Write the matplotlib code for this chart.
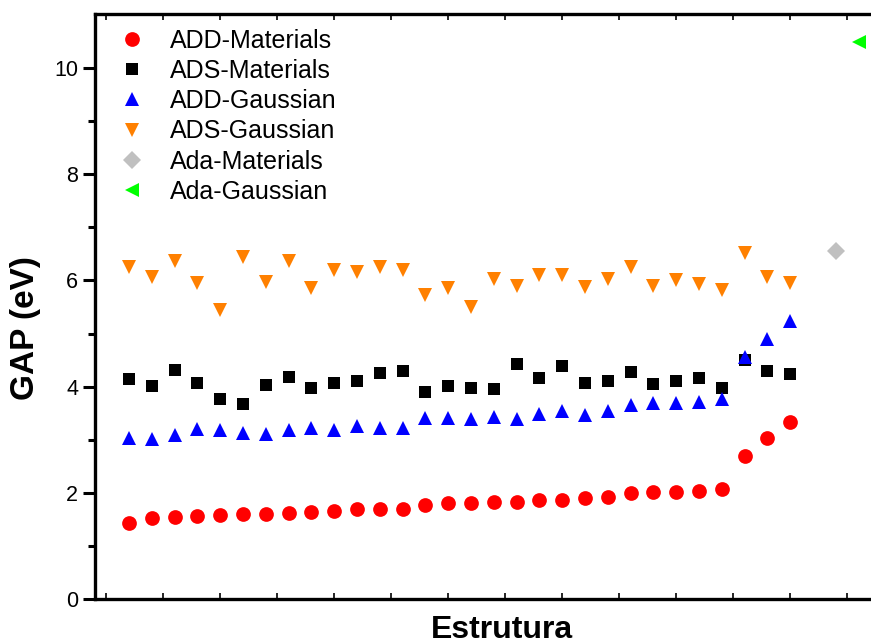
import numpy as np
import matplotlib
matplotlib.use('Agg')
import matplotlib.pyplot as plt

plt.rcParams['font.family'] = ['Liberation Sans', 'DejaVu Sans']

# structure index for the 30 structures
estrutura = np.arange(1, 31)

add_materials = [1.44, 1.52, 1.55, 1.57, 1.58, 1.60, 1.60, 1.62, 1.64, 1.65,
                 1.69, 1.69, 1.70, 1.78, 1.80, 1.81, 1.83, 1.83, 1.86, 1.86,
                 1.91, 1.92, 2.00, 2.01, 2.01, 2.04, 2.08, 2.70, 3.03, 3.33]
ads_materials = [4.14, 4.02, 4.31, 4.07, 3.76, 3.68, 4.04, 4.19, 3.97, 4.06,
                 4.11, 4.25, 4.29, 3.89, 4.01, 3.97, 3.96, 4.42, 4.17, 4.38,
                 4.06, 4.10, 4.27, 4.05, 4.11, 4.17, 3.98, 4.51, 4.30, 4.24]
add_gaussian = [3.03, 3.01, 3.08, 3.20, 3.18, 3.13, 3.10, 3.18, 3.23, 3.19,
                3.26, 3.23, 3.23, 3.41, 3.41, 3.40, 3.42, 3.39, 3.49, 3.54,
                3.47, 3.54, 3.65, 3.69, 3.69, 3.71, 3.77, 4.56, 4.89, 5.23]
ads_gaussian = [6.25, 6.06, 6.36, 5.95, 5.45, 6.44, 5.98, 6.36, 5.85, 6.19,
                6.16, 6.26, 6.19, 5.73, 5.85, 5.51, 6.02, 5.90, 6.10, 6.11,
                5.87, 6.03, 6.25, 5.90, 6.00, 5.93, 5.83, 6.52, 6.06, 5.95]
ada_x = [32, 33]
ada_materials = [6.55]
ada_gaussian = [10.49]

fig = plt.figure(figsize=(8.71, 6.44), dpi=100)
ax = fig.add_axes([95 / 871, 45 / 644, 1 - 95 / 871, 585 / 644])

ax.plot(estrutura, add_materials, 'o', color='#FF0000', ms=10.6, mew=0, label='ADD-Materials')
ax.plot(estrutura, ads_materials, 's', color='#000000', ms=9.2, mew=0, label='ADS-Materials')
ax.plot(estrutura, add_gaussian, '^', color='#0000FF', ms=10.4, mew=0, label='ADD-Gaussian')
ax.plot(estrutura, ads_gaussian, 'v', color='#FF8000', ms=10.4, mew=0, label='ADS-Gaussian')
ax.plot(ada_x[:1], ada_materials, 'D', color='#C0C0C0', ms=9.0, mew=0, label='Ada-Materials')
ax.plot(ada_x[1:], ada_gaussian, '<', color='#00FF00', ms=10.4, mew=0, label='Ada-Gaussian')

ax.set_xlim(-0.49, 33.54)
ax.set_ylim(0, 11.02)

ax.set_xticks(np.arange(0, 34, 2.5))
ax.tick_params(axis='x', direction='in', length=4, width=1.2, labelbottom=False,
               top=True, labeltop=False)
ax.set_yticks(np.arange(0, 11, 2))
ax.set_yticks(np.arange(1, 11, 2), minor=True)
ax.tick_params(axis='y', which='major', direction='out', length=9, width=2.2, labelsize=15.5, pad=3)
ax.tick_params(axis='y', which='minor', direction='out', length=5, width=2.2)

for side in ['left', 'bottom', 'top']:
    ax.spines[side].set_linewidth(2.4)
ax.spines['right'].set_visible(False)

ax.set_ylabel('GAP (eV)', fontsize=24, fontweight='bold')
ax.yaxis.set_label_coords(-54 / 776, (599 - 328) / 585)
ax.set_xlabel('Estrutura', fontsize=23, fontweight='bold')
ax.xaxis.set_label_coords((502 - 95) / 776, -16 / 585)
ax.xaxis.label.set_va('top')

ax.legend(loc='upper left', frameon=False, fontsize=18, handlelength=1.0,
          handletextpad=1.02, labelspacing=0.25, borderaxespad=0,
          bbox_to_anchor=(0.0187, 0.992))

fig.savefig('out.png', dpi=100)
